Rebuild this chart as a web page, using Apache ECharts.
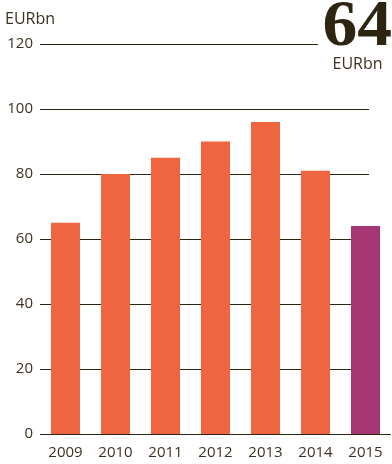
<!DOCTYPE html>
<html>
<head>
<meta charset="utf-8">
<script src="https://cdn.jsdelivr.net/npm/echarts@6/dist/echarts.min.js"></script>
<style>
  html, body { margin: 0; padding: 0; background: #fff; }
  #chart { width: 392px; height: 464px; }
</style>
</head>
<body>
<div id="chart"></div>
<script>
// Annual figures in EUR billions
const years = ['2009', '2010', '2011', '2012', '2013', '2014', '2015'];
const values = [65, 80, 85, 90, 96, 81, 64];
const yTicks = [0, 20, 40, 60, 80, 100, 120];
const headline = '64';
const unit = 'EURbn';

const ink = '#2e2510';
const textInk = '#3b3222';
const barColor = '#ee6540';
const highlight = '#a63673';
const font = '"Open Sans", "Noto Sans", sans-serif';

const chart = echarts.init(document.getElementById('chart'), null, { renderer: 'canvas' });

chart.setOption({
  animation: false,
  grid: [
    { left: 40, right: 23, top: 44, bottom: 30 },
    { left: 40.5, right: 1.5, top: 44, bottom: 30 }
  ],
  xAxis: [
    { gridIndex: 0, type: 'category', data: years, show: false },
    {
      gridIndex: 1, type: 'category', data: years,
      axisLine: { lineStyle: { color: ink, width: 1 } },
      axisTick: { show: false },
      axisLabel: { color: textInk, fontSize: 15, fontFamily: font, margin: 11 }
    }
  ],
  yAxis: [
    {
      gridIndex: 0, type: 'value',
      min: yTicks[0], max: yTicks[yTicks.length - 1], interval: yTicks[1] - yTicks[0],
      axisLine: { show: false },
      axisTick: { show: false },
      splitLine: { lineStyle: { color: ink, width: 1 } },
      axisLabel: { color: textInk, fontSize: 15, fontFamily: font, margin: 7 }
    },
    {
      gridIndex: 1, type: 'value',
      min: yTicks[0], max: yTicks[yTicks.length - 1], interval: yTicks[1] - yTicks[0],
      show: false
    }
  ],
  series: [{
    type: 'bar',
    xAxisIndex: 1,
    yAxisIndex: 1,
    barWidth: 29,
    data: values.map((v, i) => ({
      value: v,
      itemStyle: { color: i === values.length - 1 ? highlight : barColor }
    }))
  }],
  graphic: [
    // clear the top rule where the headline figure sits
    { type: 'rect', shape: { x: 318, y: 40, width: 60, height: 8 }, style: { fill: '#fff' }, z: 10 },
    {
      type: 'text', left: 5, top: 11, z: 11,
      style: { text: unit, fill: textInk, font: '16px ' + font }
    },
    {
      type: 'text', x: 392, y: -4, scaleX: 1.07, z: 11,
      style: {
        text: headline, fill: ink, align: 'right', verticalAlign: 'top',
        font: 'bold 65px "Liberation Serif", "DejaVu Serif", serif'
      }
    },
    {
      type: 'text', x: 357.5, y: 56, z: 11,
      style: { text: unit, fill: textInk, align: 'center', verticalAlign: 'top', font: '16px ' + font }
    }
  ]
});
</script>
</body>
</html>
